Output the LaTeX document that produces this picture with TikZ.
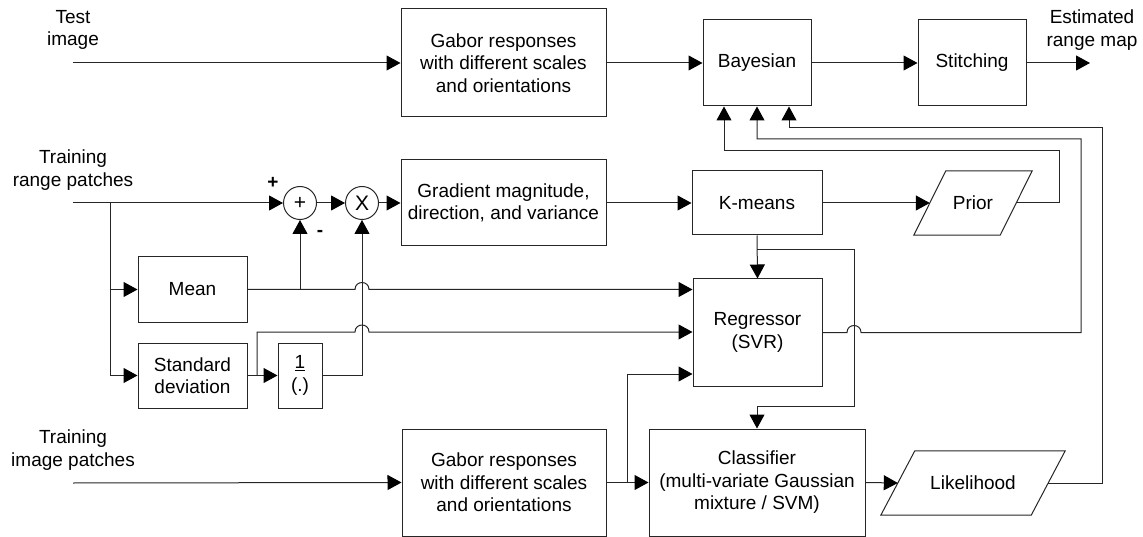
\documentclass[tikz,border=0pt]{standalone}
\usepackage{fontspec}
\setmainfont{Liberation Sans}
\usetikzlibrary{arrows.meta,calc}
\begin{document}
\begin{tikzpicture}[x=1pt,y=-1pt]
\tikzset{
  every node/.style={font=\fontsize{19}{22.5}\selectfont, align=center},
  blk/.style={draw=black!85, line width=1pt, inner sep=0pt},
  ghost/.style={inner sep=0pt},
  opnode/.style={circle, draw=black!85, line width=1pt, minimum size=33pt, inner sep=0pt},
  wire/.style={draw=black!85, line width=1pt},
  arr/.style={wire, -{Triangle[length=14pt,width=15pt,color=black]}},
}
\useasboundingbox (0,0) rectangle (1143,537);

% input / output labels
\node (tin)  at (73,30)   {Test\\image};
\node (tout) at (1092,30) {Estimated\\range map};
\node (rin)  at (73,170)  {Training\\range patches};
\node (iin)  at (73,450)  {Training\\image patches};
\coordinate (tstart) at (73,63);
\coordinate (rstart) at (73,203);
\coordinate (istart) at (73,483);
\coordinate (mapend) at (1090,63);

% blocks
\node[blk, minimum width=205pt, minimum height=108pt] (gab1) at (503.5,63) {Gabor responses\\with different scales\\and orientations};
\node[blk, minimum width=108pt, minimum height=86pt] (bay) at (757,63) {Bayesian};
\node[blk, minimum width=108pt, minimum height=86pt] (sti) at (972,63) {Stitching};
\node[blk, minimum width=205pt, minimum height=86pt] (grad) at (503.5,203) {Gradient magnitude,\\direction, and variance};
\node[blk, minimum width=130pt, minimum height=64pt] (km) at (757,203) {K-means};
\node[ghost, minimum width=86pt, minimum height=64pt] (prior) at (973,203) {Prior};
\node[blk, minimum width=109pt, minimum height=65pt] (mean) at (192.5,289.5) {Mean};
\node[blk, minimum width=109pt, minimum height=65pt] (sd) at (192.5,375.5) {Standard\\deviation};
\node[blk, minimum width=44pt, minimum height=65pt] (inv) at (300,375.5) {\underline{1}\\(.)};
\node[opnode] (sum) at (300,203) {\fontsize{21}{22}\selectfont +};
\node[opnode] (mul) at (362,203) {\fontsize{21}{22}\selectfont X};
\node (plus)  at (273,183) {\bfseries +};
\node (minus) at (320,233) {\bfseries -};
\node[blk, minimum width=129pt, minimum height=107pt] (reg) at (757.5,332.5) {Regressor\\(SVR)};
\node[blk, minimum width=204pt, minimum height=107pt] (gab2) at (504,482.5) {Gabor responses\\with different scales\\and orientations};
\node[blk, minimum width=216pt, minimum height=107pt] (cls) at (757,482.5) {Classifier\\(multi-variate Gaussian\\mixture / SVM)};
\node[ghost, minimum width=150pt, minimum height=64pt] (lik) at (973,483) {Likelihood};

% parallelogram outlines
\draw[wire] ([xshift=-16pt]prior.south west) -- ([xshift=16pt]prior.north west)
  -- ([xshift=16pt]prior.north east) -- ([xshift=-16pt]prior.south east) -- cycle;
\draw[wire] ([xshift=-17pt]lik.south west) -- ([xshift=17pt]lik.north west)
  -- ([xshift=17pt]lik.north east) -- ([xshift=-17pt]lik.south east) -- cycle;

% top row
\draw[arr] (tstart) -- (gab1.west);
\draw[arr] (gab1.east) -- (bay.west);
\draw[arr] (bay.east) -- (sti.west);
\draw[arr] (sti.east) -- (mapend);

% normalisation chain
\draw[arr] (rstart) -- (sum.west);
\draw[arr] (sum.east) -- (mul.west);
\draw[arr] (mul.east) -- (grad.west);
\draw[arr] (grad.east) -- (km.west);
\draw[arr] (km.east) -- (prior.west);
\draw[arr] (110,203) |- (sd.west);
\draw[arr] (110,289.5) -- (mean.west);
\draw[arr] (sd.east) -- (inv.west);
\draw[arr] (300,289.5) -- (sum.south);
\draw[arr] (inv.east) -| (mul.south);

% inputs of the regressor (with hops over the vertical wire)
\draw[arr] (mean.east) -- (355,289.5) .. controls (355,280.2) and (369,280.2) .. (369,289.5) -- (reg.west |- mean.east);
\draw[arr] (257,375.5) -- (257,332) -- (355,332) .. controls (355,322.7) and (369,322.7) .. (369,332) -- (reg.west |- 0,332);
\draw[arr] (627,482.5) -- (627,374) -- (reg.west |- 0,374);
\draw[arr] (km.south) -- (reg.north);
\draw[arr] (757,250) -- (854,250) -- (854,406) -- (757,406) -- (cls.north);

% bottom row
\draw[arr] (istart) -- (gab2.west);
\draw[arr] (gab2.east) -- (cls.west);
\draw[arr] (cls.east) -- (lik.west);

% feedback to the Bayesian block
\draw[arr] (prior.east) -- (1059,203) -- (1059,151) -- (724,151) -- ([xshift=-33pt]bay.south);
\draw[arr] (reg.east) -- (847,332.5) .. controls (847,323.2) and (861,323.2) .. (861,332.5)
  -- (1081,332.5) -- (1081,139) -- (757,139) -- (bay.south);
\draw[arr] (lik.east) -- (1102,483) -- (1102,128) -- (789,128) -- ([xshift=32pt]bay.south);
\end{tikzpicture}
\end{document}
